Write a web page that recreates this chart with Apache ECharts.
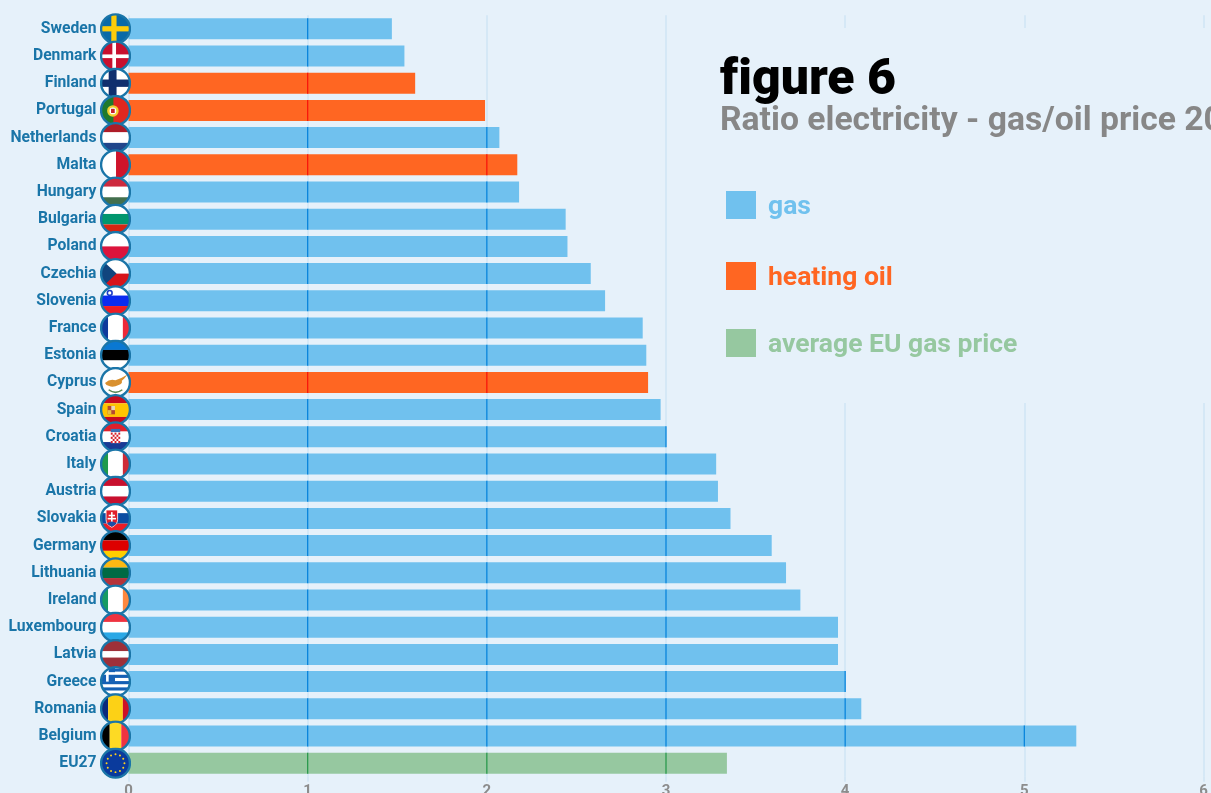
<!DOCTYPE html>
<html>
<head>
<meta charset="utf-8">
<style>
  html, body { margin: 0; padding: 0; background: #e6f1fa; overflow: hidden; }
  #chart { width: 1211px; height: 793px; }
</style>
<script src="https://cdn.jsdelivr.net/npm/echarts@6/dist/echarts.min.js"></script>
</head>
<body>
<div id="chart"></div>
<script>
const countries = ['Sweden','Denmark','Finland','Portugal','Netherlands','Malta','Hungary','Bulgaria','Poland','Czechia','Slovenia','France','Estonia','Cyprus','Spain','Croatia','Italy','Austria','Slovakia','Germany','Lithuania','Ireland','Luxembourg','Latvia','Greece','Romania','Belgium','EU27'];
const ratios = [1.47,1.54,1.60,1.99,2.07,2.17,2.18,2.44,2.45,2.58,2.66,2.87,2.89,2.90,2.97,3.00,3.28,3.29,3.36,3.59,3.67,3.75,3.96,3.96,4.00,4.09,5.29,3.34];
const fuels = ['gas','gas','oil','oil','gas','oil','gas','gas','gas','gas','gas','gas','gas','oil','gas','gas','gas','gas','gas','gas','gas','gas','gas','gas','gas','gas','gas','eu'];
const xTicks = [0,1,2,3,4,5,6];
const fuelNames = { gas: 'gas', oil: 'heating oil', eu: 'average EU gas price' };
const fuelColors = { gas: '#70c1ee', oil: '#ff6622', eu: '#96c8a0' };
const fuelGridColors = { gas: '#0a85dc', oil: '#f8180c', eu: '#2b9a4e' };
const legendTops = { gas: 191, oil: 262, eu: 329 };

const BG = '#e6f1fa';
const INK = '#1a75a8';
const GRID = '#cfe4f4';
const FONT = 'Roboto, "Noto Sans", sans-serif';
const BAR_HEIGHT = 21;

// Flag artwork, on a 60x60 canvas that is cropped to a ringed disc.
const hBands = (a, b, c, y1 = 20, y2 = 40) =>
  `<rect width="60" height="${y1}" fill="${a}"/><rect y="${y1}" width="60" height="${y2 - y1}" fill="${b}"/><rect y="${y2}" width="60" height="${60 - y2}" fill="${c}"/>`;
const vBands = (a, b, c, x1 = 16, x2 = 44) =>
  `<rect width="${x1}" height="60" fill="${a}"/><rect x="${x1}" width="${x2 - x1}" height="60" fill="${b}"/><rect x="${x2}" width="${60 - x2}" height="60" fill="${c}"/>`;
const cross = (bg, fg, x, w, y, h) =>
  `<rect width="60" height="60" fill="${bg}"/><rect x="${x}" width="${w}" height="60" fill="${fg}"/><rect y="${y}" width="60" height="${h}" fill="${fg}"/>`;

function euStars() {
  let out = '<rect width="60" height="60" fill="#0a3a9c"/>';
  for (let i = 0; i < 12; i++) {
    const a = i * Math.PI / 6;
    out += `<circle cx="${30 + 17 * Math.cos(a)}" cy="${30 + 17 * Math.sin(a)}" r="1.9" fill="#ffd21e"/>`;
  }
  return out;
}
function greekFlag() {
  let out = '<rect width="60" height="60" fill="#fff"/>';
  for (let y = 5; y < 60; y += 12) out += `<rect y="${y}" width="60" height="6" fill="#1560b4"/>`;
  out += '<rect width="29" height="30" fill="#1560b4"/><rect x="12" width="5" height="30" fill="#fff"/><rect y="12" width="29" height="5" fill="#fff"/>';
  return out;
}
function croatianShield() {
  let out = '<rect x="21" y="22" width="18" height="20" fill="#fff"/>';
  for (let r = 0; r < 5; r++) for (let c = 0; c < 5; c++) {
    if ((r + c) % 2 === 0) out += `<rect x="${21 + c * 3.6}" y="${22 + r * 4}" width="3.6" height="4" fill="#d8202c"/>`;
  }
  return out + '<rect x="21" y="15" width="18" height="6" fill="#3a6fb4"/>';
}

const flagArt = {
  Sweden: cross('#0a6aa8', '#fdcc0a', 22, 10, 25, 10),
  Denmark: cross('#c8102e', '#fff', 24, 7, 27, 7),
  Finland: cross('#fff', '#102f6e', 17, 15, 23, 14),
  Portugal: '<rect width="60" height="60" fill="#e0281f"/><rect width="26" height="60" fill="#1f7a2c"/><circle cx="25" cy="31" r="11" fill="#f2cf2e"/><circle cx="25" cy="31" r="6.5" fill="#fff"/><rect x="21.5" y="27" width="7" height="8" fill="#c8202a"/>',
  Netherlands: hBands('#ae1c28', '#fff', '#21468b'),
  Malta: '<rect width="60" height="60" fill="#fff"/><rect x="31" width="29" height="60" fill="#cf142b"/>',
  Hungary: hBands('#cd2a3e', '#fff', '#436f4d'),
  Bulgaria: hBands('#fff', '#00966e', '#d62612'),
  Poland: hBands('#fff', '#fff', '#dc143c', 30, 30),
  Czechia: hBands('#fff', '#fff', '#d7141a', 30, 30) + '<path d="M0 0L32 30L0 60Z" fill="#11457e"/>',
  Slovenia: hBands('#fff', '#0a2cf0', '#ed1c24', 20, 40) + '<circle cx="19" cy="15" r="6" fill="#1a3cc8"/><circle cx="19" cy="15" r="3" fill="#fff"/>',
  France: vBands('#0f3a9c', '#fff', '#ed2939'),
  Estonia: hBands('#0a78d2', '#000', '#fff'),
  Cyprus: '<rect width="60" height="60" fill="#fff"/><path d="M10 31Q20 22 30 26Q42 22 53 15Q46 24 42 27Q44 33 36 35Q26 40 18 37Q12 36 10 31Z" fill="#d9902f"/><path d="M17 44Q30 54 43 44" fill="none" stroke="#5e8a58" stroke-width="3"/>',
  Spain: hBands('#c60b1e', '#ffc400', '#c60b1e', 18, 44) + '<rect x="15" y="23" width="14" height="16" fill="#b5492f"/><rect x="22" y="23" width="7" height="8" fill="#e8d9b8"/><rect x="15" y="31" width="7" height="8" fill="#e8c040"/>',
  Croatia: hBands('#e0202c', '#fff', '#1a3a94') + croatianShield(),
  Italy: vBands('#1f9a4c', '#fff', '#ce2b37'),
  Austria: hBands('#c8102e', '#fff', '#c8102e'),
  Slovakia: hBands('#fff', '#0b4ea2', '#ee1c25') + '<path d="M12 14H34V32Q34 42 23 47Q12 42 12 32Z" fill="#e0202c" stroke="#fff" stroke-width="1.5"/><rect x="21.5" y="18" width="3" height="20" fill="#fff"/><rect x="17" y="23" width="12" height="3" fill="#fff"/><rect x="15" y="29" width="16" height="3" fill="#fff"/><path d="M14 39Q23 33 32 39Q28 44 23 46Q17 44 14 39Z" fill="#1a4ea8"/>',
  Germany: hBands('#000', '#dd0000', '#ffce00'),
  Lithuania: hBands('#fdb913', '#006a44', '#b5333a'),
  Ireland: vBands('#169b62', '#fff', '#ff883e'),
  Luxembourg: hBands('#ef3340', '#fff', '#2aa8e6'),
  Latvia: hBands('#9e3039', '#fff', '#9e3039', 24, 36),
  Greece: greekFlag(),
  Romania: vBands('#0a2a7c', '#fcd116', '#ce1126'),
  Belgium: vBands('#000', '#fdda24', '#ef3340', 19, 41),
  EU27: euStars()
};

function flagSymbol(name) {
  const svg = `<svg xmlns="http://www.w3.org/2000/svg" width="120" height="120" viewBox="0 0 60 60"><defs><clipPath id="d"><circle cx="30" cy="30" r="27"/></clipPath></defs><circle cx="30" cy="30" r="27" fill="#fff"/><g clip-path="url(#d)">${flagArt[name]}</g><circle cx="30" cy="30" r="27.5" fill="none" stroke="${INK}" stroke-width="4.5"/></svg>`;
  return 'image://data:image/svg+xml;charset=utf-8,' + encodeURIComponent(svg);
}

const valuesFor = fuel => ratios.map((v, i) => (fuels[i] === fuel ? v : null));

const barSeries = Object.keys(fuelNames).map(fuel => ({
  name: fuelNames[fuel],
  type: 'bar',
  stack: 'ratio',
  barWidth: BAR_HEIGHT,
  z: 2,
  itemStyle: { color: fuelColors[fuel] },
  data: valuesFor(fuel)
}));

// Grid lines where they cross a bar take a deeper shade of that bar's colour.
const gridOnBars = {
  type: 'custom',
  name: 'grid on bars',
  z: 3,
  clip: false,
  silent: true,
  encode: { x: 0, y: 1 },
  data: ratios.map((v, i) => [v, i]),
  renderItem(params, api) {
    const value = api.value(0);
    const row = api.value(1);
    const color = fuelGridColors[fuels[row]];
    const half = BAR_HEIGHT / 2;
    const children = xTicks.filter(t => t > 0 && t <= value).map(t => {
      const p = api.coord([t, row]);
      return {
        type: 'line',
        shape: { x1: p[0], y1: p[1] - half, x2: p[0], y2: p[1] + half },
        style: { stroke: color, lineWidth: 1.3 }
      };
    });
    return { type: 'group', children };
  }
};

const flagSeries = {
  type: 'scatter',
  name: 'flags',
  z: 5,
  clip: false,
  silent: true,
  symbolSize: 31.5,
  symbolOffset: [-13, 0],
  itemStyle: { opacity: 1 },
  data: countries.map((c, i) => ({ value: [0, i], symbol: flagSymbol(c) }))
};

const legends = Object.keys(fuelNames).map(fuel => ({
  data: [fuelNames[fuel]],
  left: 726,
  top: legendTops[fuel],
  padding: 0,
  icon: 'rect',
  itemWidth: 30,
  itemHeight: 28,
  selectedMode: false,
  formatter: '{t|{name}}',
  textStyle: {
    color: fuelColors[fuel],
    fontFamily: FONT,
    fontWeight: 700,
    fontSize: 26.5,
    padding: [0, 0, 0, 7],
    rich: {
      t: {
        color: fuelColors[fuel],
        fontFamily: FONT,
        fontWeight: 700,
        fontSize: 26.5,
        padding: [5, 0, 0, 0]
      }
    }
  }
}));

const chart = echarts.init(document.getElementById('chart'), null, { renderer: 'canvas' });
chart.setOption({
  animation: false,
  backgroundColor: BG,
  title: [
    // The joiner keeps the f and the dotted i as separate glyphs.
    { text: 'f\u200Cigure 6', left: 720, top: 56, padding: 0,
      textStyle: { color: '#000', fontFamily: FONT, fontWeight: 900, fontSize: 50 } },
    { text: 'Ratio electricity - gas/oil price 20', left: 720, top: 105, padding: 0,
      textStyle: { color: '#878787', fontFamily: FONT, fontWeight: 700, fontSize: 33.7 } }
  ],
  legend: legends,
  grid: { left: 128.5, top: 15.2, width: 1075, height: 761.6, outerBoundsMode: 'none' },
  xAxis: {
    type: 'value',
    min: 0,
    max: 6,
    interval: 1,
    axisLine: { show: false },
    axisTick: { show: true, length: 5, lineStyle: { color: GRID, width: 1.5 } },
    splitLine: { show: true, lineStyle: { color: GRID, width: 1.5 } },
    axisLabel: { color: '#8c8c8c', fontFamily: FONT, fontWeight: 700, fontSize: 15, margin: 7 }
  },
  yAxis: {
    type: 'category',
    inverse: true,
    data: countries,
    axisLine: { show: false },
    axisTick: { show: false },
    splitLine: { show: false },
    axisLabel: { interval: 0, margin: 32, color: INK, fontFamily: FONT, fontWeight: 700, fontSize: 15.7 }
  },
  // Blank panel behind the heading and the legend, hiding the grid lines there.
  graphic: [{
    type: 'rect',
    z: 1,
    silent: true,
    shape: { x: 690, y: 28, width: 521, height: 375 },
    style: { fill: BG }
  }],
  series: [...barSeries, gridOnBars, flagSeries]
});
</script>
</body>
</html>
